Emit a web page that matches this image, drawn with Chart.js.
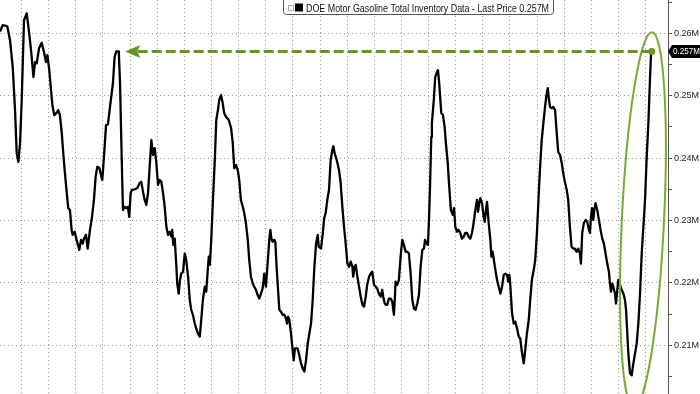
<!DOCTYPE html>
<html>
<head>
<meta charset="utf-8">
<script src="https://cdn.jsdelivr.net/npm/chart.js@4.4.1/dist/chart.umd.min.js"></script>
<style>
  html, body { margin: 0; padding: 0; background: #fff; }
</style>
</head>
<body>
<canvas id="chart" width="700" height="394"></canvas>
<script>
// weekly DOE motor gasoline inventory, million barrels
const weeks = [
  0.0,1.3,2.9,3.5,4.8,6.1,7.2,8.0,8.8,9.6,
  10.4,11.5,12.8,14.0,15.2,16.0,16.8,17.6,18.7,20.0,
  21.2,22.0,22.7,23.6,24.3,25.1,26.0,27.2,27.9,28.7,
  29.6,30.3,31.1,32.0,32.7,33.5,34.3,34.8,35.8,36.7,
  38.0,38.8,39.6,40.2,41.2,42.0,43.1,44.1,45.0,45.8,
  46.6,47.6,48.4,49.0,49.8,50.8,51.7,52.8,54.1,54.9,
  55.7,56.9,57.5,58.1,58.9,59.7,60.5,61.3,61.9,62.6,
  63.2,64.5,65.8,66.9,67.7,68.5,69.3,70.1,70.9,71.7,
  72.5,73.3,74.1,74.9,75.7,76.5,77.3,78.1,78.9,79.7,
  80.5,81.3,82.1,82.5,83.0,83.7,84.5,84.9,85.6,86.2,
  86.8,87.7,88.5,89.2,90.1,90.9,91.6,92.4,93.3,94.0,
  94.8,95.7,96.4,97.2,98.1,98.8,99.3,100.0,100.5,101.2,
  102.0,102.9,103.6,104.4,105.0,105.9,106.7,107.4,108.3,109.6,
  110.7,111.5,112.2,113.0,113.9,114.6,115.4,116.3,117.0,117.8,
  118.7,119.4,120.2,121.1,121.8,122.6,123.4,124.2,125.0,125.8,
  126.6,127.1,127.4,128.2,129.0,129.5,130.0,130.6,131.4,131.9,
  132.5,133.2,133.8,134.6,135.4,136.2,137.0,137.5,138.0,138.6,
  139.4,140.2,140.7,141.3,142.6,143.4,144.2,145.0,145.8,146.6,
  147.4,148.2,149.0,149.8,150.6,151.4,152.2,152.7,153.8,154.6,
  155.3,156.0,156.8,157.6,158.4,159.2,159.7,160.3,161.3,162.4,
  163.2,164.0,164.8,165.6,166.4,167.2,168.0,168.8,169.2,169.9,
  170.4,171.2,172.0,172.8,173.6,174.4,175.2,175.9,176.8,177.6,
  178.3,179.2,180.0,180.7,181.5,182.4,183.1,183.6,184.3,184.8,
  185.5,186.3,187.2,187.9,188.7,189.2,189.5,190.3,191.1,191.9,
  192.7,193.5,194.3,195.1,195.9,196.7,197.5,198.3,199.1,199.9,
  200.7,201.5,202.3,203.1,203.6,204.4,205.0,205.5,206.0,206.6,
  206.9,207.8,208.5,209.3,209.8,210.4,211.4,212.2,213.0,213.6,
  214.5,215.2,216.0,216.9,217.5,218.1,218.9,219.7,220.5,221.3,
  222.1,222.9,223.7,224.5,225.3,226.1,226.9,227.7,228.5,229.0,
  229.6,230.1,230.9,231.7,232.2,232.8,233.3,234.1,234.9,235.4,
  236.0,236.5,237.3,238.1,238.9,239.7,240.5,241.3,242.1,242.9,
  243.4,244.0,244.4,245.3,246.1,246.8,247.7,248.5,249.2,250.1,
  250.9,251.6,252.4,253.3,254.0,254.8,255.7,256.4,257.2,258.1,
  258.8,259.5,260.3,261.1,261.9,262.4,263.0,263.5,264.3,265.0,
  265.9,266.7,267.4,268.3,269.1,269.8,270.6,271.5,272.2,273.0,
  273.8,274.6,275.4,276.2,277.0,277.8,278.3,278.9,279.7,280.6,
  281.3,282.1,282.6,283.1,283.6,284.2,284.7,285.3,286.1,286.9,
  287.7,288.5,289.3,290.1,290.9,291.7,292.2,292.7,293.3,293.8,
  294.6,295.1,295.7,296.2,297.0,297.8,298.6,299.4,299.9,300.5,
  301.0,301.8,302.6,303.4,304.2,305.0,305.8,306.6,307.4,308.2,
  309.0,309.8,310.6,311.4,311.9,312.2
];
const inventory = [
  260.3,261.3,261.2,261.1,258.9,254.6,247.7,240.8,239.4,242.4,
  249.3,262.1,263.2,260.0,256.2,253.0,255.4,255.2,257.6,258.5,
  256.8,255.4,256.5,254.1,251.4,248.5,246.9,247.3,247.7,246.9,
  244.0,240.8,237.6,234.4,232.0,231.7,228.5,227.7,228.2,226.9,
  225.3,226.9,226.3,227.1,227.7,225.5,228.5,230.6,233.3,237.0,
  238.6,238.4,237.3,236.5,240.2,245.3,245.4,248.5,252.0,256.2,
  257.1,257.1,252.0,242.9,231.7,232.2,232.0,232.2,230.6,234.4,
  234.9,235.0,235.2,236.0,236.2,234.6,233.3,232.5,234.4,238.6,
  242.9,240.5,241.6,239.2,235.7,236.5,236.2,234.4,232.2,229.0,
  227.7,228.2,227.4,228.5,226.1,227.1,222.6,219.9,218.3,220.4,
  221.5,221.8,224.7,223.7,221.0,217.3,215.7,214.9,213.5,212.7,
  211.9,211.4,214.1,217.3,219.4,218.6,221.0,224.2,222.9,226.9,
  233.3,239.7,246.1,247.7,249.3,250.1,248.8,247.2,246.6,246.1,
  244.8,242.4,238.4,238.9,238.1,236.5,233.3,232.2,231.2,229.6,
  226.9,223.7,221.0,219.9,219.4,218.9,218.1,217.5,218.3,219.1,
  221.5,219.9,219.4,223.1,226.9,228.5,227.1,226.6,226.9,226.6,
  222.6,218.9,215.7,215.4,214.9,214.9,214.3,213.5,214.6,214.1,
  211.9,209.2,207.6,209.5,209.5,208.4,207.1,206.3,205.8,207.6,
  210.3,211.9,213.5,217.3,222.6,226.3,227.7,225.8,225.5,227.9,
  230.4,231.2,233.3,234.9,239.7,241.3,241.9,240.8,239.7,238.1,
  236.0,232.2,229.0,226.3,223.1,222.6,223.4,222.6,221.0,222.6,
  222.9,221.0,219.4,217.8,216.5,216.2,217.8,219.7,221.0,221.5,
  221.8,219.7,219.4,219.1,218.3,217.8,218.9,217.8,216.7,216.5,
  216.5,217.5,217.5,217.0,214.9,217.8,220.2,219.7,220.5,224.2,
  226.9,226.1,225.0,225.0,224.7,221.5,217.3,215.9,215.7,216.7,
  218.1,222.6,225.3,225.5,226.9,226.3,226.1,230.1,235.4,243.4,
  245.6,249.3,253.0,253.8,254.1,252.0,247.2,246.9,245.0,242.4,
  239.2,235.4,231.7,230.9,232.0,229.0,228.2,228.5,228.0,227.1,
  227.4,228.0,228.0,227.4,227.1,228.0,229.6,231.7,233.3,231.4,
  232.8,233.6,232.8,230.6,229.8,231.7,233.0,229.6,226.9,224.2,
  225.0,223.9,222.1,220.5,219.4,218.3,219.4,221.3,221.5,221.3,
  220.2,221.3,219.9,215.1,213.5,213.8,212.7,211.4,211.1,208.7,
  207.1,209.2,211.9,214.1,217.3,220.5,222.1,223.7,227.9,234.4,
  239.0,242.9,245.6,248.2,250.4,251.2,249.3,248.2,248.0,248.2,
  247.7,244.0,241.0,240.5,239.2,237.6,236.2,234.9,233.3,229.0,
  225.8,225.5,225.5,225.0,225.5,224.7,223.1,228.0,229.6,230.1,
  229.8,228.5,228.0,230.6,232.0,230.1,231.7,232.8,231.7,230.1,
  228.5,227.1,226.3,224.7,223.1,221.8,219.9,218.6,219.9,219.4,
  218.3,216.7,218.9,220.5,219.7,218.9,218.3,217.3,215.7,211.9,
  208.7,205.5,205.2,207.1,208.7,210.3,213.5,218.3,224.7,229.0,
  233.3,240.2,245.6,253.0,256.8,257.1
];
const seriesName = 'DOE Motor Gasoline Total Inventory Data';

// axis ranges
const weekMin = 0, weekMax = 320;
const quarterStart = 10.3, quarterLen = 13;
const valueMin = 202.2, valueMax = 265.34;

// annotation anchors (data units)
const arrowToWeek = 60;
const ringWeek = 308, ringValue = 230.1, ringHalfWeeks = 10.1, ringHalfValue = 30.1;

const lastValue = inventory[inventory.length - 1];
const fmtM = v => (v / 1000).toFixed(3) + 'M';

const annotations = {
  id: 'annotations',
  afterDatasetsDraw(chart) {
    const { ctx, scales: { x, y } } = chart;
    const lastX = x.getPixelForValue(weeks[weeks.length - 1]);
    const lastY = y.getPixelForValue(lastValue);
    const tipX = x.getPixelForValue(arrowToWeek);
    ctx.save();

    // ring around the latest surge
    const cx = x.getPixelForValue(ringWeek), cy = y.getPixelForValue(ringValue);
    const rx = x.getPixelForValue(ringWeek + ringHalfWeeks) - cx;
    const ry = cy - y.getPixelForValue(ringValue + ringHalfValue);
    ctx.strokeStyle = '#7aaa34';
    ctx.lineWidth = 2;
    ctx.beginPath();
    ctx.ellipse(cx, cy, rx, ry, 0.048, 0, Math.PI * 2);
    ctx.stroke();

    // dashed arrow back to the previous high
    ctx.strokeStyle = '#67961f';
    ctx.lineWidth = 3;
    ctx.setLineDash([10, 4]);
    ctx.beginPath();
    ctx.moveTo(lastX, lastY);
    ctx.lineTo(tipX + 11, lastY);
    ctx.stroke();
    ctx.setLineDash([]);
    ctx.fillStyle = '#67961f';
    ctx.beginPath();
    ctx.moveTo(tipX, lastY);
    ctx.lineTo(tipX + 15, lastY - 6.5);
    ctx.lineTo(tipX + 12, lastY);
    ctx.lineTo(tipX + 15, lastY + 6.5);
    ctx.closePath();
    ctx.fill();
    ctx.beginPath();
    ctx.arc(lastX, lastY, 3.5, 0, Math.PI * 2);
    ctx.fill();
    ctx.restore();
  },
  afterDraw(chart) {
    const { ctx, chartArea, scales: { y } } = chart;
    ctx.save();

    // last price tag on the axis
    const ty = y.getPixelForValue(lastValue);
    const tx = chartArea.right;
    ctx.fillStyle = '#000';
    ctx.beginPath();
    ctx.moveTo(tx, ty);
    ctx.lineTo(tx + 4, ty - 6.5);
    ctx.lineTo(chart.width, ty - 6.5);
    ctx.lineTo(chart.width, ty + 6.5);
    ctx.lineTo(tx + 4, ty + 6.5);
    ctx.closePath();
    ctx.fill();
    ctx.fillStyle = '#fff';
    ctx.font = '9px "Liberation Sans", Arial, sans-serif';
    ctx.textBaseline = 'middle';
    ctx.fillText(fmtM(lastValue), tx + 5, ty + 0.5, chart.width - tx - 5);

    // legend box at the top
    ctx.fillStyle = '#fff';
    ctx.strokeStyle = '#555';
    ctx.lineWidth = 1;
    ctx.beginPath();
    ctx.roundRect(283.5, -5.5, 270, 20, 3);
    ctx.fill();
    ctx.stroke();
    ctx.strokeStyle = '#aaa';
    ctx.strokeRect(288.5, 5.5, 5, 5);
    ctx.fillStyle = '#000';
    ctx.fillRect(295, 3.5, 8, 8);
    ctx.fillStyle = '#111';
    ctx.font = '10px "Liberation Sans", Arial, sans-serif';
    ctx.textBaseline = 'alphabetic';
    ctx.fillText(seriesName + ' - Last Price ' + fmtM(lastValue), 306, 11.5, 243);
    ctx.restore();
  }
};

new Chart(document.getElementById('chart'), {
  type: 'line',
  data: {
    datasets: [{
      label: seriesName,
      data: weeks.map((w, i) => ({ x: w, y: inventory[i] })),
      borderColor: '#000',
      borderWidth: 2.3,
      borderJoinStyle: 'round',
      pointRadius: 0,
      tension: 0,
      fill: false
    }]
  },
  options: {
    responsive: false,
    animation: false,
    layout: { padding: 0 },
    plugins: { legend: { display: false }, tooltip: { enabled: false } },
    scales: {
      x: {
        type: 'linear',
        min: weekMin,
        max: weekMax,
        afterBuildTicks: scale => {
          const ticks = [];
          for (let v = quarterStart; v < weekMax; v += quarterLen) ticks.push({ value: v });
          scale.ticks = ticks;
        },
        afterFit: scale => {
          scale.height = 0;
          scale.paddingLeft = 0;
          scale.paddingRight = 0;
        },
        ticks: { display: false },
        grid: { color: '#999', drawTicks: false },
        border: { display: false, dash: [1, 3] }
      },
      y: {
        position: 'right',
        min: valueMin,
        max: valueMax,
        afterFit: scale => {
          scale.width = 32;
          scale.paddingTop = 0;
          scale.paddingBottom = 0;
        },
        ticks: {
          stepSize: 5,
          includeBounds: false,
          padding: 2,
          color: '#222',
          font: { family: '"Liberation Sans", Arial, sans-serif', size: 9 },
          callback: v => v % 10 === 0 ? (v / 1000).toFixed(2) + 'M' : ''
        },
        grid: {
          color: c => c.tick && c.tick.value % 10 === 0 ? '#999' : 'rgba(0,0,0,0)',
          tickColor: '#555',
          tickLength: 4
        },
        border: { display: true, color: '#555', width: 1, dash: [1, 3] }
      }
    }
  },
  plugins: [annotations]
});
</script>
</body>
</html>
